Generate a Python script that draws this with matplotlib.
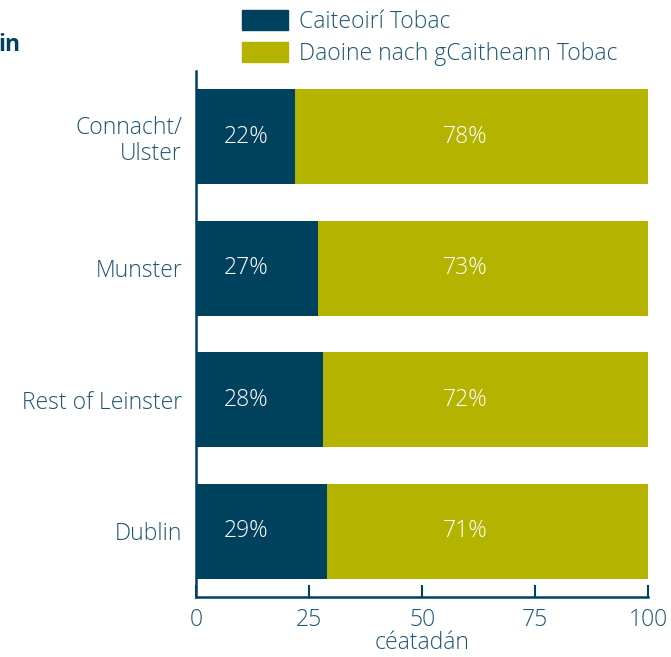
import matplotlib.pyplot as plt
from matplotlib.patches import Patch

regions = ['Dublin', 'Rest of Leinster', 'Munster', 'Connacht/\nUlster']
smokers = [29, 28, 27, 22]
non_smokers = [71, 72, 73, 78]

dark = '#00425e'
olive = '#b3b300'
txt = '#1f5674'

plt.rcParams['font.family'] = ['Open Sans', 'DejaVu Sans']
plt.rcParams['font.weight'] = 'light'
fs = 16.5

fig = plt.figure(figsize=(6.71, 6.57), dpi=100)
ax = fig.add_axes([0.292, 0.0913, 0.674, 0.8007])

y = range(len(regions))
ax.barh(y, smokers, height=0.72, color=dark)
ax.barh(y, non_smokers, left=smokers, height=0.72, color=olive)

for i in y:
    ax.text(11, i, f'{smokers[i]}%', color='white', ha='center', va='center', fontsize=fs)
    ax.text(59.5, i, f'{non_smokers[i]}%', color='white', ha='center', va='center', fontsize=fs)

ax.set_xlim(0, 100)
ax.set_ylim(-0.5, 3.5)
ax.set_xticks([0, 25, 50, 75, 100])
ax.set_yticks(list(y))
ax.set_yticklabels(regions, ha='right', linespacing=1.15)
ax.tick_params(axis='x', direction='in', length=9, width=1.5, color=dark,
               labelsize=fs, labelcolor=txt, pad=8)
ax.tick_params(axis='y', length=0, labelsize=fs, labelcolor=txt, pad=10)
for s in ['top', 'right']:
    ax.spines[s].set_visible(False)
for s in ['left', 'bottom']:
    ax.spines[s].set_color(dark)
    ax.spines[s].set_linewidth(1.8)
ax.set_xlabel('céatadán', fontsize=fs, color=txt, fontweight='light', labelpad=-1)

handles = [Patch(color=dark, label='Caiteoirí Tobac'),
           Patch(color=olive, label='Daoine nach gCaitheann Tobac')]
leg = fig.legend(handles=handles, loc='upper left', bbox_to_anchor=(0.3607, 0.985),
                 frameon=False, fontsize=fs, handlelength=2.0, handleheight=1.0,
                 handletextpad=0.5, labelspacing=0.35, borderaxespad=0, borderpad=0)
for t in leg.get_texts():
    t.set_color(txt)

fig.text(-0.002, 0.931, 'in', fontsize=fs, fontweight='bold', color=dark,
         ha='left', va='center')

fig.savefig('out.png', dpi=100)
